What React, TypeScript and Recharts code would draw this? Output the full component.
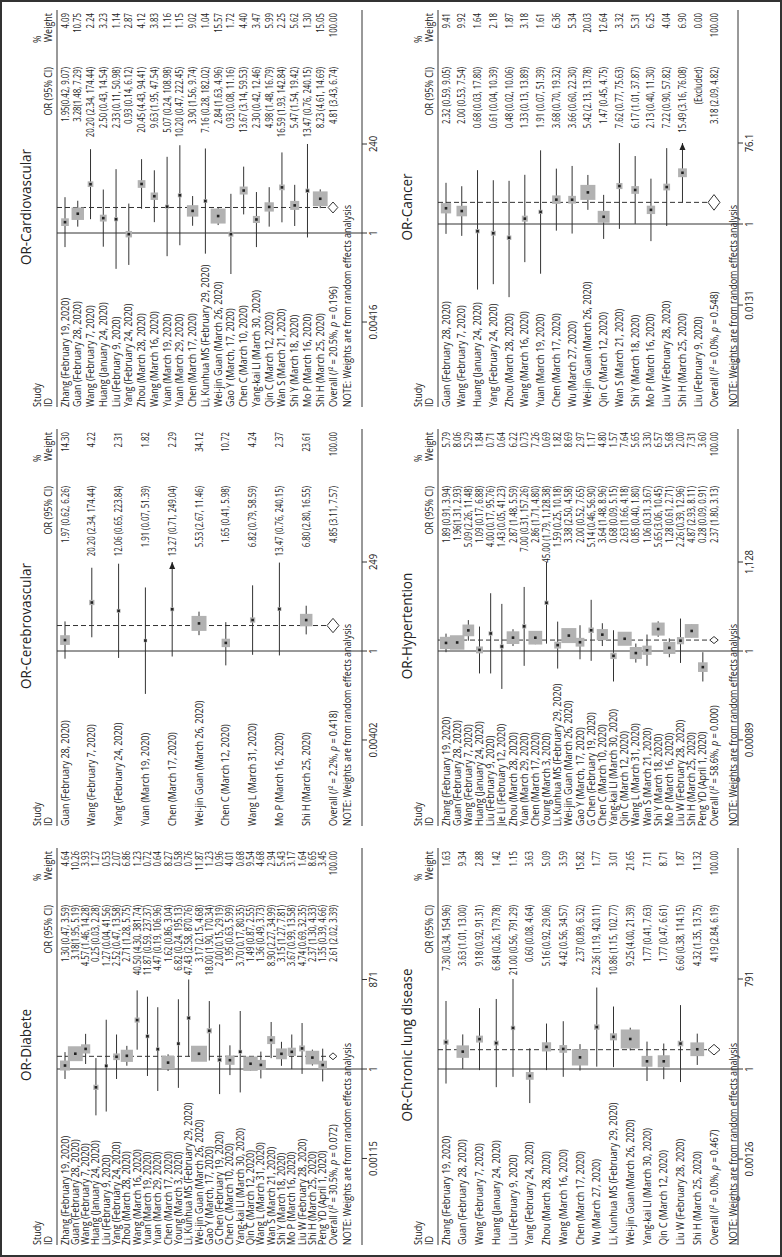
import React from "react";
import { ScatterChart, Scatter, XAxis, YAxis, ReferenceLine, ErrorBar } from "recharts";

const FONT = "'Open Sans', 'Liberation Sans', sans-serif";
const INK = "#222";
const LINE = "#333";
const BOX_FILL = "#b2b2b2";
const SX = 0.9; // the glyphs in the figure are squeezed sideways
const SX_NUM = 0.78; // number columns are narrower still

const PANEL_W = 419;
const PLOT_L = 12;
const PLOT_R = 409;
const RULE_Y = 57;
const FIRST_ROW = 65;
const LAST_ROW = 333;
const COL_CI = 352;
const COL_WT = 406;

// ---------- OR-Diabete ----------
const diabStudies = [
  "Zhang (February 19, 2020)", "Guan (February 28, 2020)", "Wang (February 7, 2020)",
  "Huang (January 24, 2020)", "Liu (February 9, 2020)", "Yang (February 24, 2020)",
  "Zhou (March 28, 2020)", "Wang (March 16, 2020)", "Yuan (March 19, 2020)",
  "Yuan (March 29, 2020)", "Chen (March 17, 2020)", "Young (March 3, 2020)",
  "Li, Kunhua MS (February 29, 2020)", "Wei-jin Guan (March 26, 2020)", "Gao Y (March, 17, 2020)",
  "G Chen (February 19, 2020)", "Chen C (March 10, 2020)", "Yang-kai LI (March 30, 2020)",
  "Qin C (March 12, 2020)", "Wang L (March 31, 2020)", "Wan S (March 21, 2020)",
  "Shi Y (March 18, 2020)", "Mo P (March 16, 2020)", "Liu W (February 28, 2020)",
  "Shi H (March 25, 2020)", "Peng YD (April 1, 2020)",
];
const diabOR = [1.3, 3.18, 4.57, 0.25, 1.27, 2.52, 2.71, 40.5, 11.87, 4.47, 1.62, 6.82, 47.43, 3.17, 18.0, 2.0, 1.95, 3.7, 1.49, 1.36, 8.9, 3.15, 3.67, 4.74, 2.37, 1.35];
const diabLo = [0.47, 1.95, 1.46, 0.03, 0.04, 0.47, 1.28, 4.3, 0.59, 0.19, 0.86, 0.24, 2.58, 2.15, 1.9, 0.15, 0.63, 0.17, 0.87, 0.49, 2.27, 1.27, 0.99, 0.69, 1.3, 0.39];
const diabHi = [3.59, 5.19, 14.28, 2.28, 41.56, 13.58, 5.75, 381.74, 237.37, 106.96, 3.04, 195.13, 870.76, 4.68, 170.34, 29.19, 5.99, 80.35, 2.55, 3.73, 34.99, 7.81, 13.58, 32.35, 4.33, 4.66];
const diabWt = [4.64, 10.26, 3.93, 1.27, 0.53, 2.07, 6.86, 1.23, 0.72, 0.64, 8.27, 0.58, 0.76, 11.87, 1.23, 0.96, 4.01, 0.68, 9.54, 4.68, 2.94, 5.43, 3.17, 1.64, 8.65, 3.45];
const diabTicks = [0.00115, 1, 871];
const diabOverall = [2.61, 2.02, 3.39];
const diabHet = ["30.5%", "0.072"];

// ---------- OR-Cerebrovascular ----------
const cereStudies = [
  "Guan (February 28, 2020)", "Wang (February 7, 2020)", "Yang (February 24, 2020)",
  "Yuan (March 19, 2020)", "Chen (March 17, 2020)", "Wei-jin Guan (March 26, 2020)",
  "Chen C (March 12, 2020)", "Wang L (March 31, 2020)", "Mo P (March 16, 2020)",
  "Shi H (March 25, 2020)",
];
const cereOR = [1.97, 20.2, 12.06, 1.91, 13.27, 5.53, 1.65, 6.82, 13.47, 6.8];
const cereLo = [0.62, 2.34, 0.65, 0.07, 0.71, 2.67, 0.41, 0.79, 0.76, 2.8];
const cereHi = [6.26, 174.44, 223.84, 51.39, 249.04, 11.46, 5.98, 58.59, 240.15, 16.55];
const cereWt = [14.3, 4.22, 2.31, 1.82, 2.29, 34.12, 10.72, 4.24, 2.37, 23.61];
const cereTicks = [0.00402, 1, 249];
const cereOverall = [4.85, 3.11, 7.57];
const cereHet = ["2.2%", "0.418"];

// ---------- OR-Cardiovascular ----------
const cardStudies = [
  "Zhang (February 19, 2020)", "Guan (February 28, 2020)", "Wang (February 7, 2020)",
  "Huang (January 24, 2020)", "Liu (February 9, 2020)", "Yang (February 24, 2020)",
  "Zhou (March 28, 2020)", "Wang (March 16, 2020)", "Yuan (March 19, 2020)",
  "Yuan (March 29, 2020)", "Chen (March 17, 2020)", "Li, Kunhua MS (February 29, 2020)",
  "Wei-jin Guan (March 26, 2020)", "Gao Y (March, 17, 2020)", "Chen C (March 10, 2020)",
  "Yang-kai LI (March 30, 2020)", "Qin C (March 12, 2020)", "Wan S (March 21, 2020)",
  "Shi Y (March 18, 2020)", "Mo P (March 16, 2020)", "Shi H (March 25, 2020)",
];
const cardOR = [1.95, 3.28, 20.2, 2.5, 2.33, 0.93, 20.45, 9.63, 5.07, 10.2, 3.9, 7.16, 2.84, 0.93, 13.67, 2.3, 4.98, 16.59, 5.47, 13.47, 8.23];
const cardLo = [0.42, 1.48, 2.34, 0.43, 0.11, 0.14, 4.43, 1.95, 0.24, 0.47, 1.56, 0.28, 1.63, 0.08, 3.14, 0.42, 1.48, 1.93, 1.54, 0.76, 4.61];
const cardHi = [9.07, 7.29, 174.44, 14.54, 50.98, 6.12, 94.41, 47.54, 108.98, 222.45, 9.74, 182.02, 4.96, 11.16, 59.53, 12.46, 16.79, 142.84, 19.42, 240.15, 14.69];
const cardWt = [4.09, 10.75, 2.24, 3.23, 1.14, 2.87, 4.12, 3.83, 1.16, 1.15, 9.02, 1.04, 15.57, 1.72, 4.4, 3.47, 5.99, 2.25, 5.62, 1.3, 15.05];
const cardTicks = [0.00416, 1, 240];
const cardOverall = [4.81, 3.43, 6.74];
const cardHet = ["20.5%", "0.196"];

// ---------- OR-Chronic lung disease ----------
const lungStudies = [
  "Zhang (February 19, 2020)", "Guan (February 28, 2020)", "Wang (February 7, 2020)",
  "Huang (January 24, 2020)", "Liu (February 9, 2020)", "Yang (February 24, 2020)",
  "Zhou (March 28, 2020)", "Wang (March 16, 2020)", "Chen (March 17, 2020)",
  "Wu (March 27, 2020)", "Li, Kunhua MS (February 29, 2020)", "Wei-jin Guan (March 26, 2020)",
  "Yang-kai LI (March 30, 2020)", "Qin C (March 12, 2020)", "Liu W (February 28, 2020)",
  "Shi H (March 25, 2020)",
];
const lungOR = [7.3, 3.63, 9.18, 6.84, 21.0, 0.6, 5.16, 4.42, 2.37, 22.36, 10.86, 9.25, 1.77, 1.77, 6.6, 4.32];
const lungLo = [0.34, 1.01, 0.92, 0.26, 0.56, 0.08, 0.92, 0.56, 0.89, 1.19, 1.15, 4.0, 0.41, 0.47, 0.38, 1.35];
const lungHi = [154.96, 13.0, 91.31, 179.78, 791.29, 4.64, 29.06, 34.57, 6.32, 420.11, 102.77, 21.39, 7.63, 6.61, 114.15, 13.75];
const lungWt = [1.63, 9.34, 2.88, 1.42, 1.15, 3.63, 5.09, 3.59, 15.82, 1.77, 3.01, 21.65, 7.11, 8.71, 1.87, 11.32];
const lungTicks = [0.00126, 1, 791];
const lungOverall = [4.19, 2.84, 6.19];
const lungHet = ["0.0%", "0.467"];

// ---------- OR-Hypertention ----------
const hypStudies = [
  "Zhang (February 19, 2020)", "Guan (February 28, 2020)", "Wang (February 7, 2020)",
  "Huang (January 24, 2020)", "Liu (February 9, 2020)", "Jie Li (February 12, 2020)",
  "Zhou (March 28, 2020)", "Yuan (March 29, 2020)", "Chen (March 17, 2020)",
  "Young (March 3, 2020)", "Li, Kunhua MS (February 29, 2020)", "Wei-jin Guan (March 26, 2020)",
  "Gao Y (March, 17, 2020)", "G Chen (February 19, 2020)", "Chen C (March 10, 2020)",
  "Yang-kai LI (March 30, 2020)", "Qin C (March 12, 2020)", "Wang L (March 31, 2020)",
  "Wan S (March 21, 2020)", "Shi Y (March 18, 2020)", "Mo P (March 16, 2020)",
  "Liu W (February 28, 2020)", "Shi H (March 25, 2020)", "Peng YD (April 1, 2020)",
];
const hypOR = [1.89, 1.96, 5.09, 1.09, 4.0, 1.43, 2.87, 7.0, 2.86, 45.0, 1.59, 3.38, 2.0, 5.14, 3.64, 0.68, 2.63, 0.85, 1.06, 5.65, 1.28, 2.26, 4.87, 0.28];
const hypLo = [0.91, 1.31, 2.26, 0.17, 0.17, 0.05, 1.48, 0.31, 1.71, 1.79, 0.25, 2.5, 0.52, 0.46, 1.48, 0.09, 1.66, 0.4, 0.31, 3.06, 0.61, 0.39, 2.93, 0.09];
const hypHi = [3.94, 2.93, 11.48, 6.88, 95.76, 41.23, 5.59, 157.26, 4.8, 1128.38, 10.18, 4.58, 7.65, 56.9, 8.96, 5.15, 4.18, 1.8, 3.67, 10.45, 2.71, 12.96, 8.11, 0.91];
const hypWt = [5.79, 8.06, 5.29, 1.84, 0.71, 0.64, 6.22, 0.73, 7.26, 0.69, 1.82, 8.69, 2.97, 1.17, 4.8, 1.57, 7.64, 5.65, 3.3, 6.57, 5.68, 2.0, 7.31, 3.6];
const hypTicks = [0.00089, 1, 1128];
const hypOverall = [2.37, 1.8, 3.13];
const hypHet = ["58.6%", "0.000"];

// ---------- OR-Cancer ----------
const cancStudies = [
  "Guan (February 28, 2020)", "Wang (February 7, 2020)", "Huang (January 24, 2020)",
  "Yang (February 24, 2020)", "Zhou (March 28, 2020)", "Wang (March 16, 2020)",
  "Yuan (March 19, 2020)", "Chen (March 17, 2020)", "Wu (March 27, 2020)",
  "Wei-jin Guan (March 26, 2020)", "Qin C (March 12, 2020)", "Wan S (March 21, 2020)",
  "Shi Y (March 18, 2020)", "Mo P (March 16, 2020)", "Liu W (February 28, 2020)",
  "Shi H (March 25, 2020)", "Liu (February 9, 2020)",
];
const cancOR = [2.32, 2.0, 0.68, 0.61, 0.48, 1.33, 1.91, 3.68, 3.66, 5.42, 1.47, 7.62, 6.17, 2.13, 7.22, 15.49, null];
const cancLo = [0.59, 0.53, 0.03, 0.04, 0.02, 0.13, 0.07, 0.7, 0.6, 2.13, 0.45, 0.77, 1.01, 0.4, 0.9, 3.16, null];
const cancHi = [9.05, 7.54, 17.8, 10.39, 10.06, 13.89, 51.39, 19.32, 22.3, 13.78, 4.75, 75.63, 37.87, 11.3, 57.82, 76.08, null];
const cancWt = [9.41, 9.92, 1.64, 2.18, 1.87, 3.18, 1.61, 6.36, 5.34, 20.03, 12.64, 3.32, 5.31, 6.25, 4.04, 6.9, 0.0];
const cancTicks = [0.0131, 1, 76.1];
const cancOverall = [3.18, 2.09, 4.82];
const cancHet = ["0.0%", "0.548"];

type Panel = {
  title: string;
  studies: string[];
  or: (number | null)[];
  lo: (number | null)[];
  hi: (number | null)[];
  wt: number[];
  ticks: number[];
  overall: number[];
  het: string[];
  arrows: number[];
  tight: number[];
  tickPx: number[];
  boxMax: number;
};

type RowLayout = { height: number; axis: number; note: number };
const TOP_ROW: RowLayout = { height: 381, axis: 362, note: 347 };
const BOTTOM_ROW: RowLayout = { height: 401, axis: 357, note: 352 };

const panels: Record<string, Panel> = {
  diab: { title: "OR-Diabete", studies: diabStudies, or: diabOR, lo: diabLo, hi: diabHi, wt: diabWt, ticks: diabTicks, overall: diabOverall, het: diabHet, arrows: [], tight: [1], tickPx: [98, 188, 277], boxMax: 16 },
  cere: { title: "OR-Cerebrovascular", studies: cereStudies, or: cereOR, lo: cereLo, hi: cereHi, wt: cereWt, ticks: cereTicks, overall: cereOverall, het: cereHet, arrows: [4], tight: [], tickPx: [98, 187, 276], boxMax: 15 },
  card: { title: "OR-Cardiovascular", studies: cardStudies, or: cardOR, lo: cardLo, hi: cardHi, wt: cardWt, ticks: cardTicks, overall: cardOverall, het: cardHet, arrows: [], tight: [0, 1], tickPx: [97, 186, 275], boxMax: 15 },
  lung: { title: "OR-Chronic lung disease", studies: lungStudies, or: lungOR, lo: lungLo, hi: lungHi, wt: lungWt, ticks: lungTicks, overall: lungOverall, het: lungHet, arrows: [], tight: [], tickPx: [97, 188, 277], boxMax: 19 },
  hyp: { title: "OR-Hypertention", studies: hypStudies, or: hypOR, lo: hypLo, hi: hypHi, wt: hypWt, ticks: hypTicks, overall: hypOverall, het: hypHet, arrows: [], tight: [1], tickPx: [98, 187, 276], boxMax: 15 },
  canc: { title: "OR-Cancer", studies: cancStudies, or: cancOR, lo: cancLo, hi: cancHi, wt: cancWt, ticks: cancTicks, overall: cancOverall, het: cancHet, arrows: [15], tight: [], tickPx: [114, 195, 276], boxMax: 15 },
};

const num = (v: number) =>
  v >= 1000 ? v.toLocaleString("en-US", { minimumFractionDigits: 2, maximumFractionDigits: 2 }) : v.toFixed(2);
const ciText = (o: number, l: number, h: number, tight: boolean) =>
  `${num(o)}${tight ? "" : " "}(${num(l)}, ${num(h)})`;
const tickText = (v: number) => (v >= 1000 ? v.toLocaleString("en-US") : String(v));

function CText({ x, y, size = 10, anchor = "start", dy = "0.35em", sx = SX, children }: any) {
  return (
    <text
      transform={`translate(${x},${y}) scale(${sx},1)`}
      textAnchor={anchor}
      fontSize={size}
      fontFamily={FONT}
      fill={INK}
      dy={dy}
    >
      {children}
    </text>
  );
}

function ForestPanel({ p, row }: { p: Panel; row: RowLayout }) {
  const n = p.studies.length + 1;
  const step = (LAST_ROW - FIRST_ROW) / (n - 1);
  const yMin = (RULE_Y - FIRST_ROW) / step;
  const yMax = (row.axis - FIRST_ROW) / step;
  const top = p.ticks[2];
  const half = (p.tickPx[2] - p.tickPx[0]) / 2;
  const xDomain = [
    Math.pow(top, (PLOT_L - p.tickPx[1]) / half),
    Math.pow(top, (PLOT_R - p.tickPx[1]) / half),
  ];
  const maxW = Math.max(...p.wt);

  const points = p.studies
    .map((_, i) => {
      const o = p.or[i];
      if (o == null) return null;
      const l = p.lo[i] as number;
      const h = p.hi[i] as number;
      return { x: o, y: i, w: p.wt[i], err: [o - l, h - o] };
    })
    .filter(Boolean) as { x: number; y: number; w: number; err: number[] }[];

  const ovRow = n - 1;
  const [ov, ovLo, ovHi] = p.overall;
  const dh = Math.min(6, 0.38 * step) / step;
  const diamond = [
    { x: ovLo, y: ovRow },
    { x: ov, y: ovRow - dh },
    { x: ovHi, y: ovRow },
    { x: ov, y: ovRow + dh },
    { x: ovLo, y: ovRow },
  ];
  const arrows = p.arrows.map((i) => ({ x: p.hi[i] as number, y: i }));
  // one anchor per table row, placed on the reference line; its shape writes the row's texts
  const labelRows = Array.from({ length: n }, (_, i) => ({ x: 1, y: i, i }));

  const boxShape = (props: any) => {
    const { cx, cy, payload } = props;
    const s = p.boxMax * Math.sqrt(payload.w / maxW);
    return <rect x={cx - s / 2} y={cy - s / 2} width={s} height={s} fill={BOX_FILL} />;
  };
  const dotShape = (props: any) => (
    <rect x={props.cx - 1.3} y={props.cy - 1.3} width={2.6} height={2.6} fill={INK} />
  );
  const arrowShape = (props: any) => {
    const { cx, cy } = props;
    return <polygon points={`${cx},${cy} ${cx - 7},${cy - 3} ${cx - 7},${cy + 3}`} fill={INK} />;
  };
  const emptyShape = () => <g />;

  const xTick = (props: any) => (
    <CText x={props.x} y={props.y} size={10.5} anchor="middle" dy="0.71em">
      {tickText(props.payload.value)}
    </CText>
  );

  const labelShape = (props: any) => {
    const y = props.cy;
    const i = props.payload.i as number;
    if (i === ovRow) {
      return (
        <g>
          <CText x={PLOT_L} y={y}>
            Overall (<tspan fontStyle="italic">I</tspan>² = {p.het[0]}, <tspan fontStyle="italic">p</tspan> = {p.het[1]})
          </CText>
          <CText x={COL_CI} y={y} anchor="end" sx={SX_NUM}>{ciText(ov, ovLo, ovHi, false)}</CText>
          <CText x={COL_WT} y={y} anchor="end" sx={SX_NUM}>100.00</CText>
        </g>
      );
    }
    const o = p.or[i];
    return (
      <g>
        <CText x={PLOT_L} y={y}>{p.studies[i]}</CText>
        <CText x={COL_CI} y={y} anchor="end" sx={SX_NUM}>
          {o == null ? "(Excluded)" : ciText(o, p.lo[i] as number, p.hi[i] as number, p.tight.includes(i))}
        </CText>
        <CText x={COL_WT} y={y} anchor="end" sx={SX_NUM}>{p.wt[i].toFixed(2)}</CText>
      </g>
    );
  };

  return (
    <div style={{ position: "relative", width: PANEL_W, height: row.height }}>
      <ScatterChart
        width={PANEL_W}
        height={row.height}
        margin={{ top: RULE_Y, right: PANEL_W - PLOT_R, bottom: 0, left: PLOT_L }}
      >
        <XAxis
          type="number"
          dataKey="x"
          scale="log"
          domain={xDomain}
          allowDataOverflow
          ticks={p.ticks}
          interval={0}
          tick={xTick}
          tickSize={5}
          tickMargin={3}
          tickLine={{ stroke: LINE }}
          axisLine={{ stroke: LINE }}
          height={row.height - row.axis}
        />
        <YAxis type="number" dataKey="y" domain={[yMin, yMax]} reversed allowDataOverflow hide />
        <ReferenceLine y={yMin} stroke={LINE} ifOverflow="visible" />
        <ReferenceLine x={1} stroke={LINE} ifOverflow="visible" />
        <ReferenceLine
          segment={[{ x: ov, y: yMin }, { x: ov, y: ovRow - dh }]}
          stroke={LINE}
          strokeDasharray="5 3"
          ifOverflow="visible"
        />
        <Scatter data={labelRows} shape={labelShape} isAnimationActive={false} />
        <Scatter data={points} shape={boxShape} isAnimationActive={false} />
        <Scatter data={points} shape={dotShape} isAnimationActive={false}>
          <ErrorBar dataKey="err" direction="x" width={0} stroke={LINE} strokeWidth={1} isAnimationActive={false} />
        </Scatter>
        <Scatter data={arrows} shape={arrowShape} isAnimationActive={false} />
        <Scatter
          data={diamond}
          line={{ stroke: LINE, strokeWidth: 1 }}
          lineType="joint"
          shape={emptyShape}
          isAnimationActive={false}
        />
      </ScatterChart>
      <svg
        width={PANEL_W}
        height={row.height}
        style={{ position: "absolute", left: 0, top: 0, pointerEvents: "none" }}
      >
        <CText x={212} y={26} size={15} anchor="middle">{p.title}</CText>
        <CText x={PLOT_L} y={37}>Study</CText>
        <CText x={PLOT_L} y={48}>ID</CText>
        <CText x={COL_CI} y={48} anchor="end">OR (95% CI)</CText>
        <CText x={376} y={37}>%</CText>
        <CText x={COL_WT} y={48} anchor="end">Weight</CText>
        <CText x={PLOT_L} y={row.note}>NOTE: Weights are from random effects analysis</CText>
      </svg>
    </div>
  );
}

export default function App() {
  return (
    <div
      style={{
        position: "absolute",
        left: 0,
        top: 0,
        width: 782,
        height: 1257,
        overflow: "hidden",
        background: "#fff",
      }}
    >
      <div
        style={{
          position: "absolute",
          left: 0,
          top: 0,
          width: 1257,
          height: 782,
          transformOrigin: "0 0",
          transform: "translate(0px, 1257px) rotate(-90deg)",
          background: "#fff",
        }}
      >
        <div style={{ position: "absolute", left: 0, top: 0, display: "flex" }}>
          <ForestPanel p={panels.diab} row={TOP_ROW} />
          <ForestPanel p={panels.cere} row={TOP_ROW} />
          <ForestPanel p={panels.card} row={TOP_ROW} />
        </div>
        <div style={{ position: "absolute", left: 0, top: TOP_ROW.height, display: "flex" }}>
          <ForestPanel p={panels.lung} row={BOTTOM_ROW} />
          <ForestPanel p={panels.hyp} row={BOTTOM_ROW} />
          <ForestPanel p={panels.canc} row={BOTTOM_ROW} />
        </div>
        <div
          style={{
            position: "absolute",
            left: 0,
            top: 0,
            width: 1257,
            height: 782,
            boxSizing: "border-box",
            border: "2px solid #333",
            pointerEvents: "none",
          }}
        />
      </div>
    </div>
  );
}
